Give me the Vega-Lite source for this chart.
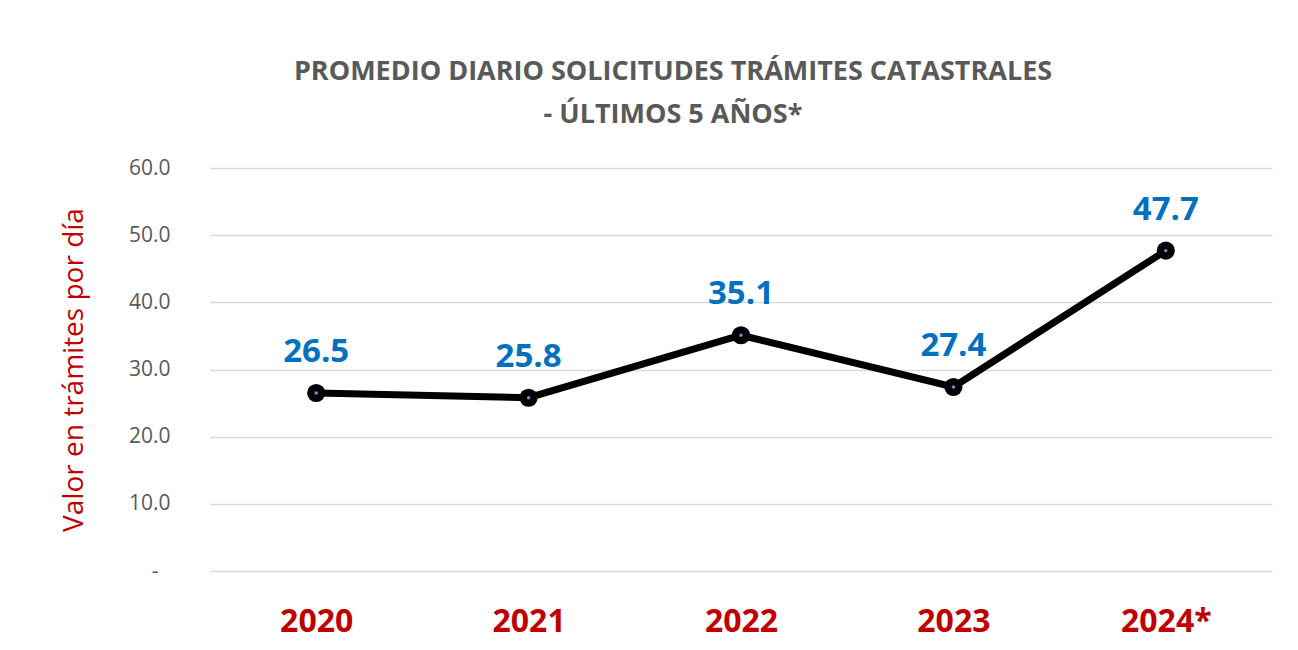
{
  "$schema": "https://vega.github.io/schema/vega-lite/v6.json",
  "width": 1062,
  "height": 403,
  "autosize": {"type": "none"},
  "padding": {"left": 210, "top": 168, "right": 26, "bottom": 79},
  "background": "white",
  "title": {
    "text": ["PROMEDIO DIARIO SOLICITUDES TRÁMITES CATASTRALES", "- ÚLTIMOS 5 AÑOS*"],
    "font": "Open Sans",
    "fontSize": 27,
    "fontWeight": "bold",
    "color": "#595959",
    "lineHeight": 43,
    "anchor": "middle",
    "dx": -68,
    "offset": 28
  },
  "config": {
    "view": {"stroke": null},
    "font": "Open Sans"
  },
  "data": {
    "values": [
      {"year": "2020", "value": 26.5},
      {"year": "2021", "value": 25.8},
      {"year": "2022", "value": 35.1},
      {"year": "2023", "value": 27.4},
      {"year": "2024*", "value": 47.7}
    ]
  },
  "encoding": {
    "x": {
      "field": "year",
      "type": "nominal",
      "sort": null,
      "scale": {"paddingInner": 0, "paddingOuter": 0},
      "axis": {
        "title": null,
        "labelAngle": 0,
        "domain": false,
        "ticks": false,
        "labelFont": "Open Sans",
        "labelFontSize": 32,
        "labelFontWeight": "bold",
        "labelColor": "#C00000",
        "labelPadding": 35
      }
    },
    "y": {
      "field": "value",
      "type": "quantitative",
      "scale": {"domain": [0, 60]},
      "axis": {
        "title": "Valor en trámites por día",
        "titleFont": "Open Sans",
        "titleFontSize": 28,
        "titleFontWeight": "normal",
        "titleColor": "#C00000",
        "titlePadding": 40,
        "values": [0, 10, 20, 30, 40, 50, 60],
        "labelExpr": "datum.value == 0 ? '-' : format(datum.value, '.1f')",
        "labelFont": "Open Sans",
        "labelFontSize": 21,
        "labelColor": "#595959",
        "labelPadding": {"condition": {"test": "datum.value == 0", "value": 52}, "value": 40},
        "ticks": false,
        "domain": false,
        "grid": true,
        "gridColor": "#D9D9D9",
        "gridWidth": 1.5
      }
    }
  },
  "layer": [
    {
      "mark": {"type": "line", "color": "#000000", "strokeWidth": 7}
    },
    {
      "mark": {"type": "point", "filled": true, "color": "#000000", "size": 330, "opacity": 1}
    },
    {
      "mark": {"type": "point", "filled": true, "color": "#5B9BD5", "size": 12, "opacity": 1}
    },
    {
      "mark": {"type": "text", "dy": -41, "font": "Open Sans", "fontSize": 33, "fontWeight": "bold", "color": "#0070C0"},
      "encoding": {"text": {"field": "value", "type": "quantitative", "format": ".1f"}}
    }
  ]
}
